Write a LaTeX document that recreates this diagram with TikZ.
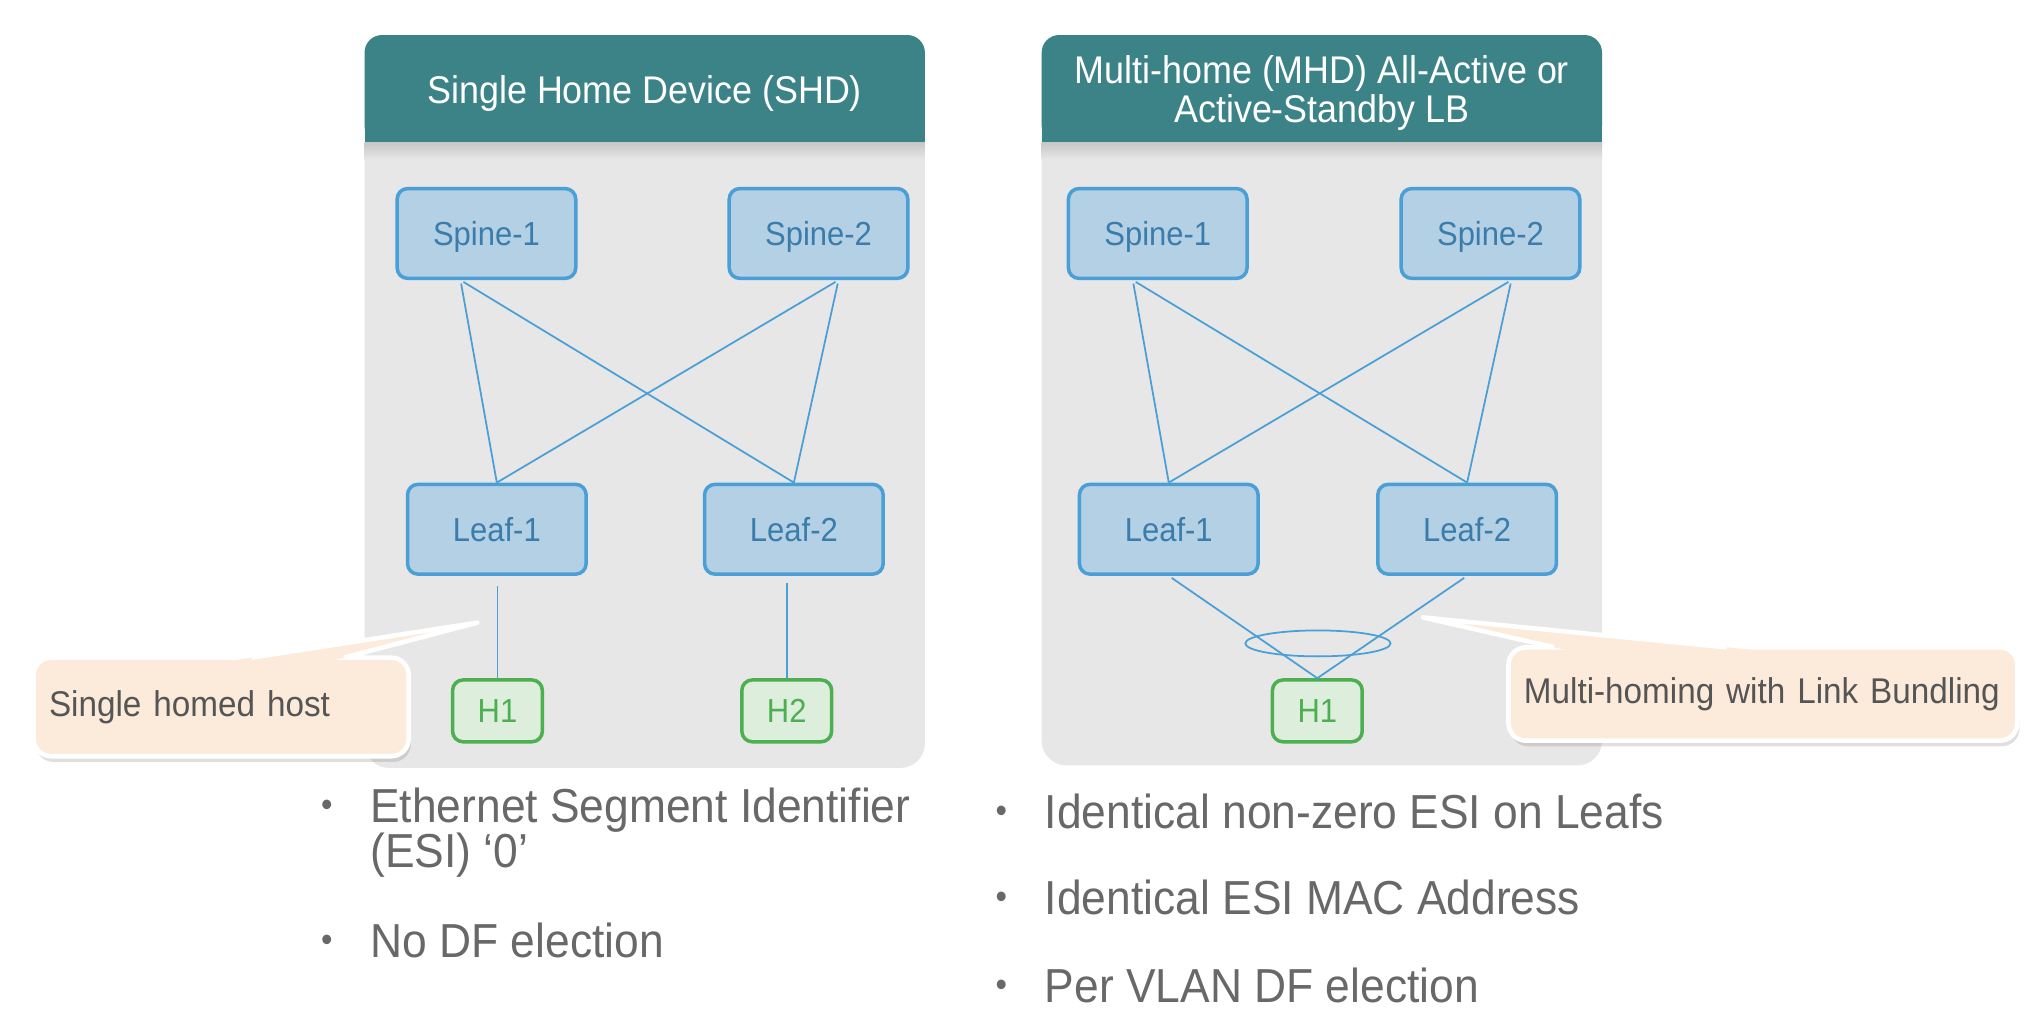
\documentclass[tikz,border=0pt]{standalone}
\usepackage{fontspec}
\setmainfont{Liberation Sans}[FakeStretch=0.93]
\usetikzlibrary{shadows, calc}

\definecolor{headteal}{HTML}{3C8388}
\definecolor{panelgrey}{HTML}{E7E7E7}
\definecolor{netfill}{HTML}{B3D0E4}
\definecolor{netline}{HTML}{4A9FD6}
\definecolor{nettext}{HTML}{3A7CAB}
\definecolor{hostfill}{HTML}{DEEEDC}
\definecolor{hostline}{HTML}{4CAF50}
\definecolor{notefill}{HTML}{FCEBDA}
\definecolor{notetext}{HTML}{555555}
\definecolor{bulletgrey}{HTML}{686868}

\tikzset{
	netbox/.style={rectangle, rounded corners=3pt, draw=netline, line width=1pt, fill=netfill,
		text=nettext, font=\fontsize{9.5}{10}\selectfont, text depth=0pt, minimum width=1.79cm, minimum height=0.9cm},
	hostbox/.style={rectangle, rounded corners=3pt, draw=hostline, line width=1pt, fill=hostfill,
		text=hostline, font=\fontsize{9.5}{10}\selectfont, text depth=0pt, minimum width=0.9cm, minimum height=0.62cm},
	link/.style={draw=netline, line width=0.5pt},
	headtext/.style={text=white, font=\fontsize{11}{11.1}\selectfont, align=center},
	notebox/.style={rectangle, rounded corners=5pt, draw=white, line width=1.3pt, fill=notefill,
		text=notetext, font=\fontsize{10.2}{11}\selectfont, align=left, inner xsep=4.4pt,
		drop shadow={opacity=0.25, shadow xshift=0.6pt, shadow yshift=-1.6pt}},
	pointer/.style={draw=white, line width=1.3pt, line join=round},
	bullettext/.style={text=bulletgrey, font=\fontsize{13.6}{13.6}\selectfont, inner sep=0pt, anchor=base west},
	bulletdot/.style={text=bulletgrey, font=\fontsize{10}{10}\selectfont, inner sep=0pt}
}

\begin{document}
\begin{tikzpicture}[x=0.013cm, y=-0.013cm]
	\useasboundingbox (0,0) rectangle (1568,788);
	
	% left panel: single home
	\fill[panelgrey, rounded corners=7pt] (281,27) rectangle (713,592);
	\fill[headteal, rounded corners=5pt] (281,27) rectangle (713,110);
	\fill[headteal] (281,70) rectangle (713,110);
	\shade[top color=black!22, bottom color=panelgrey] (281,110) rectangle (713,123);
	\node[headtext] (shdtitle) at (497,72) {Single Home Device (SHD)};
	
	\node[netbox] (lspine1) at (375,180) {Spine-1};
	\node[netbox] (lspine2) at (631,180) {Spine-2};
	\node[netbox] (lleaf1) at (383,408) {Leaf-1};
	\node[netbox] (lleaf2) at (612,408) {Leaf-2};
	\node[hostbox] (lhost1) at (383.5,548) {H1};
	\node[hostbox] (lhost2) at (606.5,548) {H2};
	
	\draw[link, shorten <=1pt] ([xshift=-0.26cm]lspine1.south) -- (lleaf1.north);
	\draw[link, shorten <=1pt] ([xshift=-0.26cm]lspine1.south) -- (lleaf2.north);
	\draw[link, shorten <=1pt] ([xshift=0.2cm]lspine2.south) -- (lleaf1.north);
	\draw[link, shorten <=1pt] ([xshift=0.2cm]lspine2.south) -- (lleaf2.north);
	\draw[link, shorten <=3pt] (lhost1.north |- lleaf1.south) -- (lhost1.north);
	\draw[link, shorten <=2pt] (lhost2.north |- lleaf2.south) -- (lhost2.north);
	
	% right panel: multi home
	\fill[panelgrey, rounded corners=7pt] (803,27) rectangle (1235,590);
	\fill[headteal, rounded corners=5pt] (803,27) rectangle (1235,110);
	\fill[headteal] (803,70) rectangle (1235,110);
	\shade[top color=black!22, bottom color=panelgrey] (803,110) rectangle (1235,123);
	\node[headtext] (mhdtitle) at (1019,72) {Multi-home (MHD) All-Active or\\Active-Standby LB};
	
	\node[netbox] (rspine1) at (892.5,180) {Spine-1};
	\node[netbox] (rspine2) at (1149,180) {Spine-2};
	\node[netbox] (rleaf1) at (901,408) {Leaf-1};
	\node[netbox] (rleaf2) at (1131,408) {Leaf-2};
	\node[hostbox] (rhost1) at (1015.5,548) {H1};
	
	\draw[link, shorten <=1pt] ([xshift=-0.25cm]rspine1.south) -- (rleaf1.north);
	\draw[link, shorten <=1pt] ([xshift=-0.25cm]rspine1.south) -- (rleaf2.north);
	\draw[link, shorten <=1pt] ([xshift=0.21cm]rspine2.south) -- (rleaf1.north);
	\draw[link, shorten <=1pt] ([xshift=0.21cm]rspine2.south) -- (rleaf2.north);
	\draw[link, shorten <=1pt] (rleaf1.south) -- (rhost1.north);
	\draw[link, shorten <=1pt] (rleaf2.south) -- (rhost1.north);
	\coordinate (bundle) at (1016,496);
	\draw[link] (bundle) ellipse [x radius=56, y radius=10];
	
	% callouts
	\coordinate (shdtip) at (368,480);
	\node[notebox, minimum width=3.757cm, minimum height=0.988cm, text width=3.45cm] (shdnote) at (170.5,545) {Single homed host};
	\fill[notefill] (174.7,510) -- (shdtip) -- (253.6,510) -- cycle;
	\draw[pointer] (194,507) -- (shdtip) -- (265,507);
	
	\coordinate (mhdtip) at (1097,476);
	\node[notebox, minimum width=5.096cm, minimum height=0.936cm, text width=4.79cm] (mhdnote) at (1359,535) {Multi-homing with Link Bundling};
	\fill[notefill] (1211.2,502) -- (mhdtip) -- (1361.5,502) -- cycle;
	\draw[pointer] (1198,499) -- (mhdtip) -- (1331,499);
	
	% bullet lists
	\node[bulletdot] (ldot1) at (252,623) {•};
	\node[bullettext] (lesi) at (285,634) {Ethernet Segment Identifier};
	\node[bullettext] (lesizero) at (285,669) {(ESI) ‘0’};
	\node[bulletdot] (ldot2) at (252,727) {•};
	\node[bullettext] (ldf) at (285,738) {No DF election};
	
	\node[bulletdot] (rdot1) at (772,628) {•};
	\node[bullettext] (resi) at (805,639) {Identical non-zero ESI on Leafs};
	\node[bulletdot] (rdot2) at (772,694) {•};
	\node[bullettext] (rmac) at (805,705) {Identical ESI MAC Address};
	\node[bulletdot] (rdot3) at (772,762) {•};
	\node[bullettext] (rdf) at (805,773) {Per VLAN DF election};
\end{tikzpicture}
\end{document}
